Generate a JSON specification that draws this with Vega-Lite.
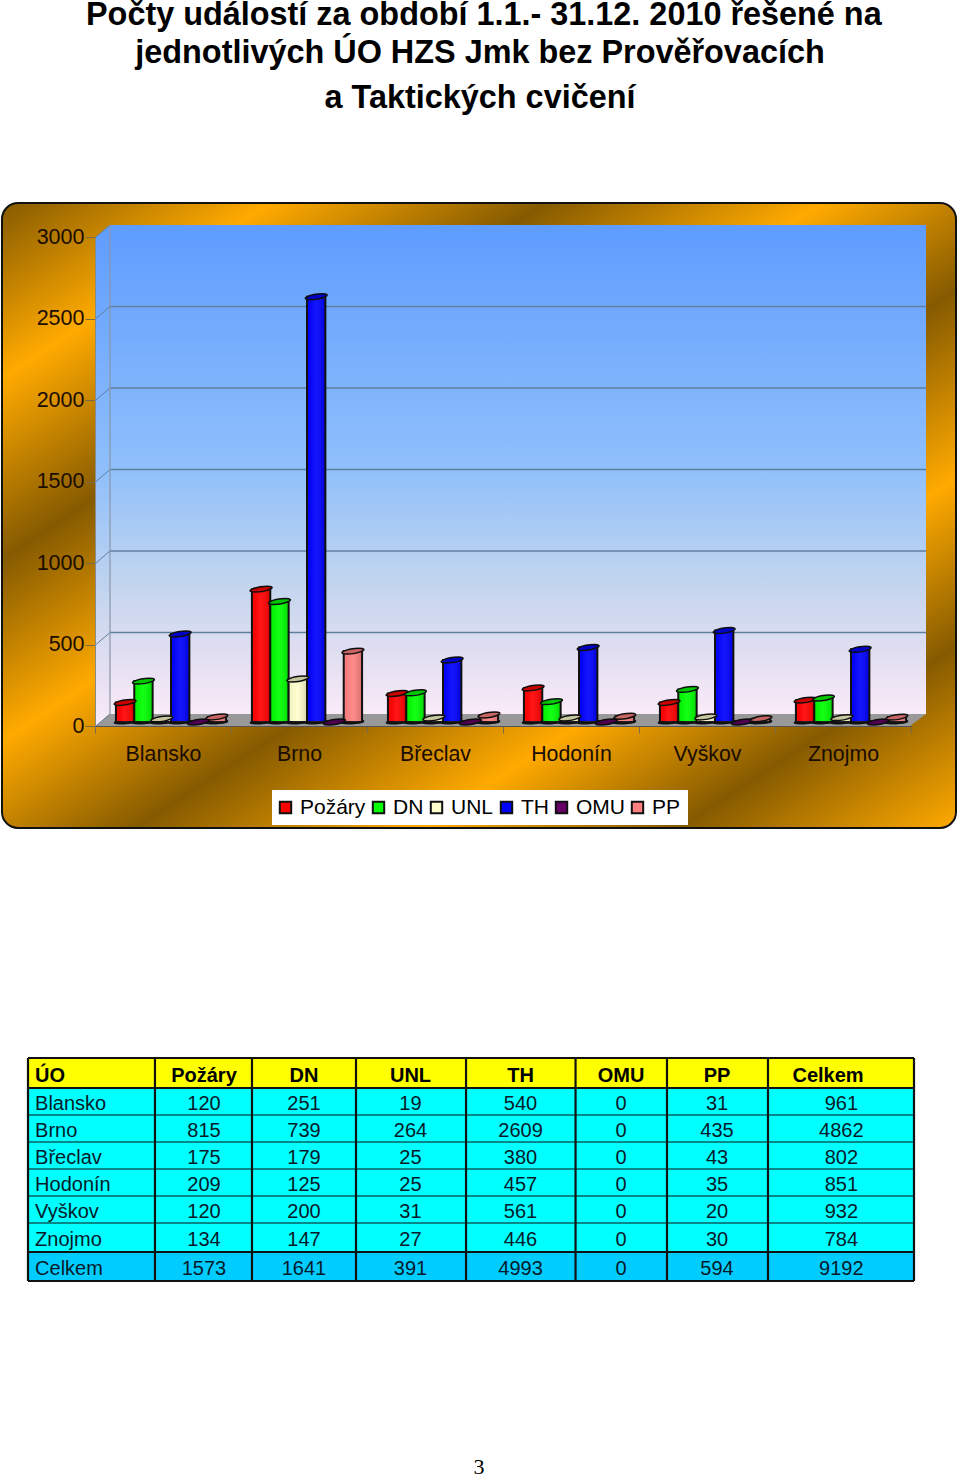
{
"$schema":"https://vega.github.io/schema/vega-lite/v6.json",
"width":960,"height":1478,"padding":0,"autosize":{"type":"none"},"background":"white",
"config":{"view":{"stroke":null},"font":"Liberation Sans","style":{"cell":{"stroke":null}}},
"datasets":{
"heading":[
{"text":"Počty událostí za období 1.1.- 31.12. 2010 řešené na","line":0,"center":0.504},
{"text":"jednotlivých ÚO HZS Jmk bez Prověřovacích","line":1,"center":0.5},
{"text":"a Taktických cvičení","line":2.18,"center":0.5}],
"pageNumber":[{"text":"3","across":0.5,"down":1}],
"frame":[{"start":0,"end":1}],
"leftWall":[{"depth":0,"low":0,"high":3000},{"depth":1,"low":74,"high":3074}],
"backWall":[{"start":0,"end":1,"low":0,"high":3000}],
"floor":[{"u":0,"low":0,"high":0},{"u":0.0169,"low":0,"high":74},{"u":0.9807,"low":0,"high":74},{"u":1,"low":74,"high":74}],
"gridLevels":[{"level":0,"back":74,"start":0,"end":1},{"level":500,"back":574,"start":0,"end":1},{"level":1000,"back":1074,"start":0,"end":1},{"level":1500,"back":1574,"start":0,"end":1},{"level":2000,"back":2074,"start":0,"end":1},{"level":2500,"back":2574,"start":0,"end":1},{"level":3000,"back":3074,"start":0,"end":1}],
"districts":[{"district":"Blansko"},{"district":"Brno"},{"district":"Břeclav"},{"district":"Hodonín"},{"district":"Vyškov"},{"district":"Znojmo"}],
"events":[
{"district":"Blansko","series":"Požáry","count":120},{"district":"Blansko","series":"DN","count":251},{"district":"Blansko","series":"UNL","count":19},{"district":"Blansko","series":"TH","count":540},{"district":"Blansko","series":"OMU","count":0},{"district":"Blansko","series":"PP","count":31},
{"district":"Brno","series":"Požáry","count":815},{"district":"Brno","series":"DN","count":739},{"district":"Brno","series":"UNL","count":264},{"district":"Brno","series":"TH","count":2609},{"district":"Brno","series":"OMU","count":0},{"district":"Brno","series":"PP","count":435},
{"district":"Břeclav","series":"Požáry","count":175},{"district":"Břeclav","series":"DN","count":179},{"district":"Břeclav","series":"UNL","count":25},{"district":"Břeclav","series":"TH","count":380},{"district":"Břeclav","series":"OMU","count":0},{"district":"Břeclav","series":"PP","count":43},
{"district":"Hodonín","series":"Požáry","count":209},{"district":"Hodonín","series":"DN","count":125},{"district":"Hodonín","series":"UNL","count":25},{"district":"Hodonín","series":"TH","count":457},{"district":"Hodonín","series":"OMU","count":0},{"district":"Hodonín","series":"PP","count":35},
{"district":"Vyškov","series":"Požáry","count":120},{"district":"Vyškov","series":"DN","count":200},{"district":"Vyškov","series":"UNL","count":31},{"district":"Vyškov","series":"TH","count":561},{"district":"Vyškov","series":"OMU","count":0},{"district":"Vyškov","series":"PP","count":20},
{"district":"Znojmo","series":"Požáry","count":134},{"district":"Znojmo","series":"DN","count":147},{"district":"Znojmo","series":"UNL","count":27},{"district":"Znojmo","series":"TH","count":446},{"district":"Znojmo","series":"OMU","count":0},{"district":"Znojmo","series":"PP","count":30}],
"tableColumns":[
{"column":"ÚO","left":0,"center":0.8,"headerCenter":0.8},
{"column":"Požáry","left":14.33,"center":19.86,"headerCenter":19.86},
{"column":"DN","left":25.28,"center":31.15,"headerCenter":31.15},
{"column":"UNL","left":37.02,"center":43.17,"headerCenter":43.17},
{"column":"TH","left":49.44,"center":55.59,"headerCenter":55.59},
{"column":"OMU","left":61.8,"center":66.93,"headerCenter":66.93},
{"column":"PP","left":72.12,"center":77.77,"headerCenter":77.77},
{"column":"Celkem","left":83.52,"center":91.8,"headerCenter":90.3},
{"column":"end","left":100,"center":100,"headerCenter":100}],
"tableRows":[
{"row":"ÚO","kind":"header","top":0,"bottom":13.45,"mid":7.62,"from":0,"to":100},
{"row":"Blansko","kind":"body","top":13.45,"bottom":25.56,"mid":20.18,"from":0,"to":100},
{"row":"Brno","kind":"body","top":25.56,"bottom":37.67,"mid":32.29,"from":0,"to":100},
{"row":"Břeclav","kind":"body","top":37.67,"bottom":49.78,"mid":44.39,"from":0,"to":100},
{"row":"Hodonín","kind":"body","top":49.78,"bottom":61.88,"mid":56.5,"from":0,"to":100},
{"row":"Vyškov","kind":"body","top":61.88,"bottom":73.99,"mid":68.6,"from":0,"to":100},
{"row":"Znojmo","kind":"body","top":73.99,"bottom":86.99,"mid":81.17,"from":0,"to":100},
{"row":"Celkem","kind":"total","top":86.99,"bottom":100,"mid":94.2,"from":0,"to":100}],
"tableCells":[
{"row":"ÚO","column":"ÚO","text":"ÚO"},{"row":"ÚO","column":"Požáry","text":"Požáry"},{"row":"ÚO","column":"DN","text":"DN"},{"row":"ÚO","column":"UNL","text":"UNL"},{"row":"ÚO","column":"TH","text":"TH"},{"row":"ÚO","column":"OMU","text":"OMU"},{"row":"ÚO","column":"PP","text":"PP"},{"row":"ÚO","column":"Celkem","text":"Celkem"},
{"row":"Blansko","column":"ÚO","text":"Blansko"},{"row":"Blansko","column":"Požáry","text":"120"},{"row":"Blansko","column":"DN","text":"251"},{"row":"Blansko","column":"UNL","text":"19"},{"row":"Blansko","column":"TH","text":"540"},{"row":"Blansko","column":"OMU","text":"0"},{"row":"Blansko","column":"PP","text":"31"},{"row":"Blansko","column":"Celkem","text":"961"},
{"row":"Brno","column":"ÚO","text":"Brno"},{"row":"Brno","column":"Požáry","text":"815"},{"row":"Brno","column":"DN","text":"739"},{"row":"Brno","column":"UNL","text":"264"},{"row":"Brno","column":"TH","text":"2609"},{"row":"Brno","column":"OMU","text":"0"},{"row":"Brno","column":"PP","text":"435"},{"row":"Brno","column":"Celkem","text":"4862"},
{"row":"Břeclav","column":"ÚO","text":"Břeclav"},{"row":"Břeclav","column":"Požáry","text":"175"},{"row":"Břeclav","column":"DN","text":"179"},{"row":"Břeclav","column":"UNL","text":"25"},{"row":"Břeclav","column":"TH","text":"380"},{"row":"Břeclav","column":"OMU","text":"0"},{"row":"Břeclav","column":"PP","text":"43"},{"row":"Břeclav","column":"Celkem","text":"802"},
{"row":"Hodonín","column":"ÚO","text":"Hodonín"},{"row":"Hodonín","column":"Požáry","text":"209"},{"row":"Hodonín","column":"DN","text":"125"},{"row":"Hodonín","column":"UNL","text":"25"},{"row":"Hodonín","column":"TH","text":"457"},{"row":"Hodonín","column":"OMU","text":"0"},{"row":"Hodonín","column":"PP","text":"35"},{"row":"Hodonín","column":"Celkem","text":"851"},
{"row":"Vyškov","column":"ÚO","text":"Vyškov"},{"row":"Vyškov","column":"Požáry","text":"120"},{"row":"Vyškov","column":"DN","text":"200"},{"row":"Vyškov","column":"UNL","text":"31"},{"row":"Vyškov","column":"TH","text":"561"},{"row":"Vyškov","column":"OMU","text":"0"},{"row":"Vyškov","column":"PP","text":"20"},{"row":"Vyškov","column":"Celkem","text":"932"},
{"row":"Znojmo","column":"ÚO","text":"Znojmo"},{"row":"Znojmo","column":"Požáry","text":"134"},{"row":"Znojmo","column":"DN","text":"147"},{"row":"Znojmo","column":"UNL","text":"27"},{"row":"Znojmo","column":"TH","text":"446"},{"row":"Znojmo","column":"OMU","text":"0"},{"row":"Znojmo","column":"PP","text":"30"},{"row":"Znojmo","column":"Celkem","text":"784"},
{"row":"Celkem","column":"ÚO","text":"Celkem"},{"row":"Celkem","column":"Požáry","text":"1573"},{"row":"Celkem","column":"DN","text":"1641"},{"row":"Celkem","column":"UNL","text":"391"},{"row":"Celkem","column":"TH","text":"4993"},{"row":"Celkem","column":"OMU","text":"0"},{"row":"Celkem","column":"PP","text":"594"},{"row":"Celkem","column":"Celkem","text":"9192"}]
},
"resolve":{"scale":{"x":"independent","y":"independent","color":"independent"},"axis":{"x":"independent","y":"independent"},"legend":{"color":"independent"}},
"layer":[
{"data":{"name":"heading"},
 "mark":{"type":"text","font":"Liberation Sans","fontWeight":"bold","fontSize":32.4,"color":"#000","align":"center","baseline":"middle"},
 "encoding":{"x":{"field":"center","type":"quantitative","axis":null,"scale":{"domain":[0,1],"range":[0,960]}},
  "y":{"field":"line","type":"quantitative","axis":null,"scale":{"domain":[0,2.18],"range":[15,97.5]}},
  "text":{"field":"text"}}},
{"data":{"name":"frame"},
 "mark":{"type":"rect","cornerRadius":16,"stroke":"#111","strokeWidth":2,
  "fill":{"gradient":"linear","x1":0,"y1":0,"x2":1,"y2":1,"stops":[{"offset":0,"color":"#855a00"},{"offset":0.14,"color":"#ffaa00"},{"offset":0.285,"color":"#855a00"},{"offset":0.43,"color":"#ffaa00"},{"offset":0.57,"color":"#855a00"},{"offset":0.72,"color":"#ffaa00"},{"offset":0.855,"color":"#855a00"},{"offset":1,"color":"#ffaa00"}]}},
 "encoding":{"x":{"field":"start","type":"quantitative","axis":null,"scale":{"domain":[0,1],"range":[2,956]}},"x2":{"field":"end"},
  "y":{"field":"start","type":"quantitative","axis":null,"scale":{"domain":[0,1],"range":[203,828]}},"y2":{"field":"end"}}},
{"data":{"name":"leftWall"},
 "mark":{"type":"area","line":false,
  "fill":{"gradient":"linear","x1":0,"y1":0,"x2":0,"y2":1,"stops":[{"offset":0,"color":"#5e9cff"},{"offset":0.5,"color":"#90c0fb"},{"offset":0.75,"color":"#c6d6ee"},{"offset":0.9,"color":"#e6e0f2"},{"offset":1,"color":"#faebf8"}]}},
 "encoding":{"x":{"field":"depth","type":"quantitative","axis":null,"scale":{"domain":[0,1],"range":[96,110]}},
  "y":{"field":"low","type":"quantitative","axis":null,"scale":{"domain":[0,3000],"range":[726,237]}},"y2":{"field":"high"}}},
{"data":{"name":"backWall"},
 "mark":{"type":"rect",
  "fill":{"gradient":"linear","x1":0,"y1":0,"x2":0,"y2":1,"stops":[{"offset":0,"color":"#5e9cff"},{"offset":0.5,"color":"#90c0fb"},{"offset":0.75,"color":"#c6d6ee"},{"offset":0.9,"color":"#e6e0f2"},{"offset":1,"color":"#faebf8"}]}},
 "encoding":{"x":{"field":"start","type":"quantitative","axis":null,"scale":{"domain":[0,1],"range":[110,926]}},"x2":{"field":"end"},
  "y":{"field":"low","type":"quantitative","axis":null,"scale":{"domain":[0,3000],"range":[714,225]}},"y2":{"field":"high"}}},
{"data":{"name":"floor"},
 "mark":{"type":"area","color":"#999999"},
 "encoding":{"x":{"field":"u","type":"quantitative","axis":null,"scale":{"domain":[0,1],"range":[96,926]}},
  "y":{"field":"low","type":"quantitative","axis":null,"scale":{"domain":[0,3000],"range":[726,237]}},"y2":{"field":"high"}}},
{"data":{"name":"gridLevels"},
 "mark":{"type":"rule","color":"#5f7f9f","strokeWidth":1.5},
 "transform":[{"filter":"datum.level > 0 && datum.level < 3000"}],
 "encoding":{"x":{"field":"start","type":"quantitative","axis":null,"scale":{"domain":[0,1],"range":[110,926]}},"x2":{"field":"end"},
  "y":{"field":"level","type":"quantitative","axis":null,"scale":{"domain":[0,3000],"range":[714,225]}}}},
{"data":{"name":"gridLevels"},
 "mark":{"type":"rule","color":"#5f7f9f","strokeWidth":1},
 "encoding":{"x":{"field":"start","type":"quantitative","axis":null,"scale":{"domain":[0,1],"range":[96,110]}},"x2":{"field":"end"},
  "y":{"field":"level","type":"quantitative","scale":{"domain":[0,3000],"range":[726,237]},
   "axis":{"orient":"left","offset":-95,"zindex":1,"title":null,"format":"d","values":[0,500,1000,1500,2000,2500,3000],"grid":false,"tickSize":10,"tickColor":"#7a6a4a","domainColor":"#8a8a8a","labelFont":"Liberation Sans","labelFontSize":21.5,"labelColor":"#1a0c00","labelPadding":1}},
  "y2":{"field":"back"}}},
{"data":{"name":"backWall"},
 "mark":{"type":"rule","color":"#8a94a6","strokeWidth":1.2},
 "encoding":{"x":{"field":"start","type":"quantitative","axis":null,"scale":{"domain":[0,1],"range":[110,926]}},
  "y":{"field":"low","type":"quantitative","axis":null,"scale":{"domain":[0,3000],"range":[714,225]}},"y2":{"field":"high"}}},
{"data":{"name":"districts"},
 "mark":{"type":"rect","opacity":0},
 "encoding":{"x":{"field":"district","type":"nominal","sort":null,"scale":{"range":[95,911],"paddingInner":0,"paddingOuter":0},
   "axis":{"orient":"bottom","offset":-752,"zindex":1,"title":null,"tickBand":"extent","labelAngle":0,"tickSize":7,"tickColor":"#7a6a4a","domainColor":"#555555","labelFont":"Liberation Sans","labelFontSize":21.3,"labelColor":"#1a0c00","labelPadding":10,"labelOverlap":false}}}},
{"data":{"name":"events"},
 "encoding":{"x":{"field":"district","type":"nominal","sort":null,"axis":null,"scale":{"range":[103,919],"paddingInner":0.19,"paddingOuter":0.095}},
  "xOffset":{"field":"series","type":"nominal","scale":{"domain":["Požáry","DN","UNL","TH","OMU","PP"]}}},
 "layer":[
 {"mark":{"type":"point","filled":true,"opacity":1,"shape":"M -1 0 A 1 0.12 -4 1 1 1 0 A 1 0.12 -4 1 1 -1 0 Z","stroke":"#111","strokeWidth":2,"size":330},
  "encoding":{"y":{"datum":0,"type":"quantitative","axis":null,"scale":{"domain":[0,3000],"range":[722,233]}},
   "color":{"field":"series","type":"nominal",
    "scale":{"domain":["Požáry","DN","UNL","TH","OMU","PP"],"range":["#ff0000","#00ff00","#ffffcc","#0000ff","#660066","#ff8080"]},
    "legend":{"orient":"none","legendX":272,"legendY":790,"direction":"horizontal","columns":6,"gridAlign":"none","title":null,"fillColor":"white","padding":7,"symbolType":"square","symbolSize":130,"symbolStrokeColor":"#111","symbolStrokeWidth":2,"symbolOffset":-4,"labelFont":"Liberation Sans","labelFontSize":21,"labelColor":"#000","labelOffset":4,"columnPadding":2}}}},
 {"mark":{"type":"bar","stroke":"#111","strokeWidth":2},
  "encoding":{"y":{"field":"count","type":"quantitative","axis":null},
   "color":{"field":"series","type":"nominal"}}},
 {"mark":{"type":"bar","color":{"gradient":"linear","x1":0,"y1":0,"x2":1,"y2":0,"stops":[{"offset":0,"color":"rgba(0,0,0,0.05)"},{"offset":0.45,"color":"rgba(255,255,255,0.08)"},{"offset":1,"color":"rgba(0,0,0,0.16)"}]}},
  "encoding":{"y":{"field":"count","type":"quantitative","axis":null}}},
 {"mark":{"type":"point","filled":true,"opacity":1,"shape":"M -1 0 A 1 0.22 -9 1 1 1 0 A 1 0.22 -9 1 1 -1 0 Z","stroke":"#111","strokeWidth":1.5,"size":330},
  "encoding":{"y":{"field":"count","type":"quantitative","axis":null},
   "color":{"field":"series","type":"nominal"}}},
 {"mark":{"type":"point","filled":true,"opacity":0.22,"color":"#000","shape":"M -1 0 A 1 0.22 -9 1 1 1 0 A 1 0.22 -9 1 1 -1 0 Z","size":330},
  "encoding":{"y":{"field":"count","type":"quantitative","axis":null}}}
 ]},
{"data":{"name":"tableRows"},
 "mark":{"type":"rect"},
 "encoding":{"x":{"field":"from","type":"quantitative","axis":null,"scale":{"domain":[0,100],"range":[28,914]}},"x2":{"field":"to"},
  "y":{"field":"top","type":"quantitative","axis":null,"scale":{"domain":[0,100],"range":[1058,1281]}},"y2":{"field":"bottom"},
  "color":{"field":"kind","type":"nominal","legend":null,"scale":{"domain":["header","body","total"],"range":["#ffff00","#00ffff","#00ccff"]}}}},
{"data":{"name":"tableRows"},
 "transform":[{"filter":"datum.kind === 'body' && datum.row !== 'Blansko'"}],
 "mark":{"type":"rule","color":"#0a5f5f","strokeWidth":1.3},
 "encoding":{"x":{"field":"from","type":"quantitative","axis":null,"scale":{"domain":[0,100],"range":[28,914]}},"x2":{"field":"to"},
  "y":{"field":"top","type":"quantitative","axis":null,"scale":{"domain":[0,100],"range":[1058,1281]}}}},
{"data":{"name":"tableRows"},
 "transform":[{"filter":"datum.kind !== 'body' || datum.row === 'Blansko'"}],
 "mark":{"type":"rule","color":"#111","strokeWidth":2.2},
 "encoding":{"x":{"field":"from","type":"quantitative","axis":null,"scale":{"domain":[0,100],"range":[28,914]}},"x2":{"field":"to"},
  "y":{"field":"top","type":"quantitative","axis":null,"scale":{"domain":[0,100],"range":[1058,1281]}}}},
{"data":{"name":"tableRows"},
 "transform":[{"filter":"datum.kind === 'total'"}],
 "mark":{"type":"rule","color":"#111","strokeWidth":2.2},
 "encoding":{"x":{"field":"from","type":"quantitative","axis":null,"scale":{"domain":[0,100],"range":[28,914]}},"x2":{"field":"to"},
  "y":{"field":"bottom","type":"quantitative","axis":null,"scale":{"domain":[0,100],"range":[1058,1281]}}}},
{"data":{"name":"tableColumns"},
 "mark":{"type":"rule","color":"#111","strokeWidth":2.2},
 "encoding":{"x":{"field":"left","type":"quantitative","axis":null,"scale":{"domain":[0,100],"range":[28,914]}},
  "y":{"datum":0,"type":"quantitative","axis":null,"scale":{"domain":[0,100],"range":[1058,1281]}},"y2":{"datum":100}}},
{"data":{"name":"tableCells"},
 "transform":[{"lookup":"column","from":{"data":{"name":"tableColumns"},"key":"column","fields":["headerCenter"]}},{"lookup":"row","from":{"data":{"name":"tableRows"},"key":"row","fields":["mid","kind"]}},{"filter":"datum.kind === 'header' && datum.column !== 'ÚO'"}],
 "mark":{"type":"text","font":"Liberation Sans","fontWeight":"bold","fontSize":20,"color":"#000","align":"center","baseline":"middle"},
 "encoding":{"x":{"field":"headerCenter","type":"quantitative","axis":null,"scale":{"domain":[0,100],"range":[28,914]}},
  "y":{"field":"mid","type":"quantitative","axis":null,"scale":{"domain":[0,100],"range":[1059,1282]}},"text":{"field":"text"}}},
{"data":{"name":"tableCells"},
 "transform":[{"lookup":"column","from":{"data":{"name":"tableColumns"},"key":"column","fields":["center"]}},{"lookup":"row","from":{"data":{"name":"tableRows"},"key":"row","fields":["mid","kind"]}},{"filter":"datum.kind === 'header' && datum.column === 'ÚO'"}],
 "mark":{"type":"text","font":"Liberation Sans","fontWeight":"bold","fontSize":20,"color":"#000","align":"left","baseline":"middle"},
 "encoding":{"x":{"field":"center","type":"quantitative","axis":null,"scale":{"domain":[0,100],"range":[28,914]}},
  "y":{"field":"mid","type":"quantitative","axis":null,"scale":{"domain":[0,100],"range":[1059,1282]}},"text":{"field":"text"}}},
{"data":{"name":"tableCells"},
 "transform":[{"lookup":"column","from":{"data":{"name":"tableColumns"},"key":"column","fields":["center"]}},{"lookup":"row","from":{"data":{"name":"tableRows"},"key":"row","fields":["mid","kind"]}},{"filter":"datum.kind !== 'header' && datum.column !== 'ÚO'"}],
 "mark":{"type":"text","font":"Liberation Sans","fontSize":20,"color":"#061a2a","align":"center","baseline":"middle"},
 "encoding":{"x":{"field":"center","type":"quantitative","axis":null,"scale":{"domain":[0,100],"range":[28,914]}},
  "y":{"field":"mid","type":"quantitative","axis":null,"scale":{"domain":[0,100],"range":[1059,1282]}},"text":{"field":"text"}}},
{"data":{"name":"tableCells"},
 "transform":[{"lookup":"column","from":{"data":{"name":"tableColumns"},"key":"column","fields":["center"]}},{"lookup":"row","from":{"data":{"name":"tableRows"},"key":"row","fields":["mid","kind"]}},{"filter":"datum.kind !== 'header' && datum.column === 'ÚO'"}],
 "mark":{"type":"text","font":"Liberation Sans","fontSize":20,"color":"#061a2a","align":"left","baseline":"middle"},
 "encoding":{"x":{"field":"center","type":"quantitative","axis":null,"scale":{"domain":[0,100],"range":[28,914]}},
  "y":{"field":"mid","type":"quantitative","axis":null,"scale":{"domain":[0,100],"range":[1059,1282]}},"text":{"field":"text"}}},
{"data":{"name":"pageNumber"},
 "mark":{"type":"text","font":"Liberation Serif","fontSize":22,"color":"#000","align":"center","baseline":"middle"},
 "encoding":{"x":{"field":"across","type":"quantitative","axis":null,"scale":{"domain":[0,1],"range":[0,958]}},
  "y":{"field":"down","type":"quantitative","axis":null,"scale":{"domain":[0,1],"range":[0,1467]}},"text":{"field":"text"}}}
]
}
